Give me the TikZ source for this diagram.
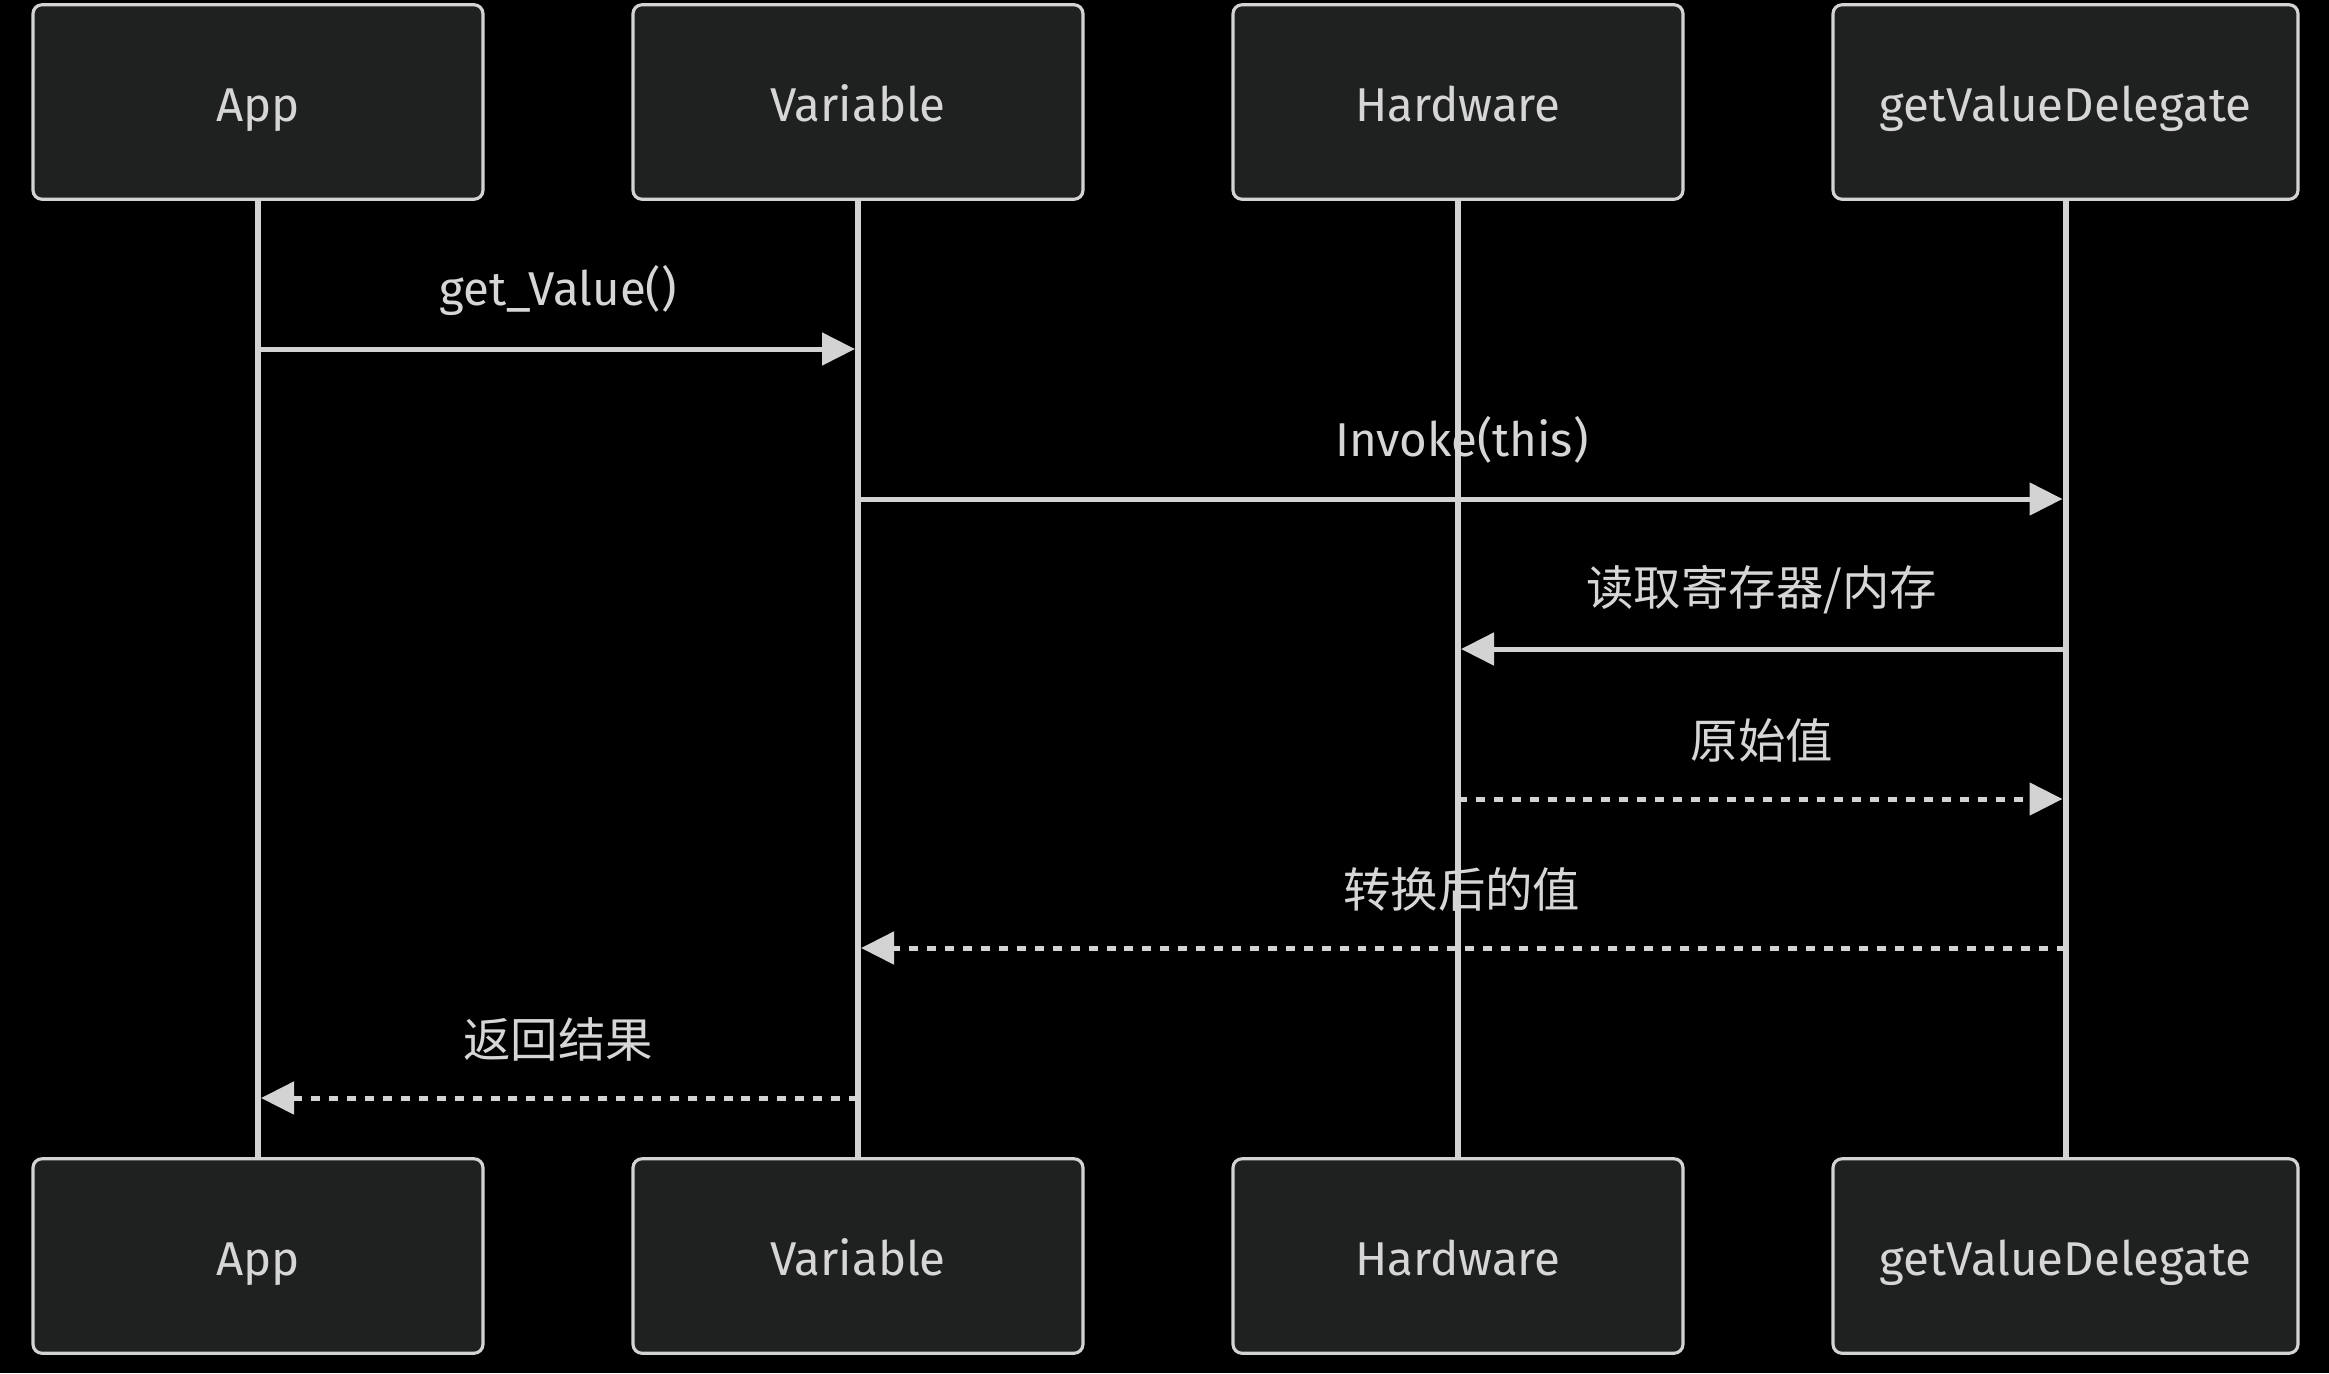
\documentclass[tikz,border=0pt]{standalone}
\usepackage{fontspec}
\setmainfont{Fira Sans}
\newfontfamily\cjk{Noto Sans CJK SC}
\usetikzlibrary{arrows.meta}
\definecolor{boxfill}{HTML}{1F2020}
\definecolor{linegray}{HTML}{D3D3D3}
\definecolor{textgray}{HTML}{D6D6D6}
\tikzset{
	actor/.style={draw=linegray, fill=boxfill, rounded corners=0.09cm, line width=0.9pt, minimum width=4.5cm, minimum height=1.945cm, text=textgray, font=\fontsize{13.5}{16}\selectfont, inner sep=0pt, text height=11pt, text depth=0pt},
	lifeline/.style={linegray, line width=1.7pt},
	msg/.style={linegray, line width=1.42pt, shorten >=0.03cm, -{Triangle[length=0.33cm,width=0.32cm]}},
	reply/.style={msg, dash pattern=on 2.55pt off 2.55pt},
	msglabel/.style={text=textgray, font=\fontsize{13.5}{16}\selectfont, inner sep=0pt, yshift=0.59cm}
}

\begin{document}
\begin{tikzpicture}
	\fill[black] (0,0) rectangle (23.29,-13.73);
	\useasboundingbox (0,0) rectangle (23.29,-13.73);
	\node[actor] (appT) at (2.58,-1.02) {App};
	\node[actor] (varT) at (8.58,-1.02) {Variable};
	\node[actor] (hwT) at (14.58,-1.02) {Hardware};
	\node[actor, minimum width=4.65cm] (delT) at (20.655,-1.02) {getValueDelegate};
	\node[actor] (appB) at (2.58,-12.56) {App};
	\node[actor] (varB) at (8.58,-12.56) {Variable};
	\node[actor] (hwB) at (14.58,-12.56) {Hardware};
	\node[actor, minimum width=4.65cm] (delB) at (20.655,-12.56) {getValueDelegate};
	\draw[lifeline] (appT) -- (appB);
	\draw[lifeline] (varT) -- (varB);
	\draw[lifeline] (hwT) -- (hwB);
	\draw[lifeline] (delT) -- (delB);
	\foreach \p in {app,var,hw,del}{
		\foreach \r/\y in {1/3.49,2/4.99,3/6.49,4/7.99,5/9.48,6/10.98}{
			\coordinate (\p\r) at (\p T.south |- 0,-\y);
		}
	}
	\draw[msg] (app1) -- node[msglabel] {get\_Value()} (var1);
	\draw[msg] (var2) -- node[msglabel] {Invoke(this)} (del2);
	\draw[msg] (del3) -- node[msglabel] {\cjk 读取寄存器/内存} (hw3);
	\draw[reply] (hw4) -- node[msglabel] {\cjk 原始值} (del4);
	\draw[reply] (del5) -- node[msglabel] {\cjk 转换后的值} (var5);
	\draw[reply] (var6) -- node[msglabel] {\cjk 返回结果} (app6);
\end{tikzpicture}
\end{document}
